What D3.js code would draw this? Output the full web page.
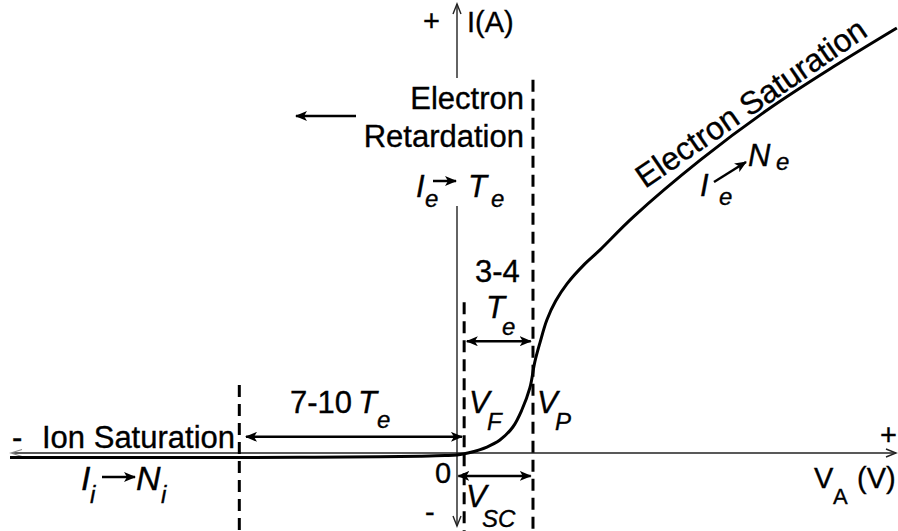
<!DOCTYPE html>
<html>
<head>
<meta charset="utf-8">
<script src="https://cdn.jsdelivr.net/npm/d3@7/dist/d3.min.js"></script>
<style>
  html, body { margin: 0; padding: 0; background: #fff; }
  svg { display: block; }
  text { font-family: "Liberation Sans", Arial, Helvetica, sans-serif; fill: #000; stroke: #000; stroke-width: 0.35px; }
  .it { font-style: italic; }
</style>
</head>
<body>
<svg id="chart" width="898" height="531"></svg>
<script>
// Langmuir probe I–V characteristic (schematic units)
const probeV = [-10, -7.99, -5.75, -3.51, -1.72, -0.83, -0.27, 0, 0.29, 0.67, 0.96, 1.25, 1.45, 1.63, 1.74, 1.86, 2.01, 2.21, 2.46, 2.86, 3.20, 3.94, 5.44, 6.94, 8.41, 9.84];
const probeI = [-0.108, -0.108, -0.106, -0.101, -0.089, -0.075, -0.061, -0.047, 0.012, 0.141, 0.306, 0.612, 1.012, 1.53, 2.14, 2.61, 3.13, 3.58, 3.98, 4.45, 4.78, 5.55, 6.89, 8.07, 9.08, 10.0];

// characteristic voltages: ion-saturation edge, floating, plasma
const guideNames = ["ion", "floating", "plasma"];
const guideV = [-4.87, 0.16, 1.70];
const guideTopI = [1.6, 3.55, 8.78];

// width markers: [from V, to V, at I]
const spanFrom = [-4.72, 0.22, 0.03];
const spanTo = [0.11, 1.65, 1.65];
const spanAt = [0.38, 2.63, -0.54];

const svg = d3.select("#chart");
const W = 898, H = 531;

const x = d3.scaleLinear().domain([-10, 10]).range([10, 904]);
const y = d3.scaleLinear().domain([0, 10]).range([453, 28]);

const defs = svg.append("defs");
defs.append("marker")
  .attr("id", "head").attr("viewBox", "0 0 12 10")
  .attr("refX", 11).attr("refY", 5)
  .attr("markerWidth", 12).attr("markerHeight", 10)
  .attr("markerUnits", "userSpaceOnUse")
  .attr("orient", "auto-start-reverse")
  .append("path").attr("d", "M0,0 L12,5 L0,10 L3,5 Z").attr("fill", "#000");

// axes
const axisColor = "#222";
svg.append("line")
  .attr("x1", 12).attr("x2", 896).attr("y1", y(0)).attr("y2", y(0))
  .attr("stroke", axisColor).attr("stroke-width", 1.4);
svg.append("path")
  .attr("d", `M886,${y(0) - 4} L896,${y(0)} L886,${y(0) + 4}`)
  .attr("fill", "none").attr("stroke", axisColor).attr("stroke-width", 1.4);
svg.append("path")
  .attr("d", `M22,${y(0) - 3.5} L11,${y(0)} L22,${y(0) + 3.5}`)
  .attr("fill", "none").attr("stroke", "#888").attr("stroke-width", 1.2);

const x0 = x(0);
svg.append("line")
  .attr("x1", x0).attr("x2", x0).attr("y1", 4).attr("y2", 526)
  .attr("stroke", axisColor).attr("stroke-width", 1.4);
svg.append("path")
  .attr("d", `M${x0 - 4},14 L${x0},4 L${x0 + 4},14`)
  .attr("fill", "none").attr("stroke", axisColor).attr("stroke-width", 1.4);
svg.append("path")
  .attr("d", `M${x0 - 4},516 L${x0},526 L${x0 + 4},516`)
  .attr("fill", "none").attr("stroke", axisColor).attr("stroke-width", 1.4);

// gap in the current axis behind the retardation label
svg.append("rect")
  .attr("x", x0 - 6).attr("y", 78).attr("width", 12).attr("height", 128)
  .attr("fill", "#fff");

// dashed guides
svg.selectAll("line.guide")
  .data(guideV.map((v, i) => ({ name: guideNames[i], v, top: guideTopI[i] })))
  .join("line")
  .attr("class", "guide")
  .attr("x1", d => x(d.v)).attr("x2", d => x(d.v))
  .attr("y1", d => y(d.top)).attr("y2", H)
  .attr("stroke", "#000").attr("stroke-width", 3)
  .attr("stroke-dasharray", "12,7");

// I–V curve
const pts = probeV.map((v, i) => [v, probeI[i]]);
svg.append("path")
  .datum(pts)
  .attr("d", d3.line().x(d => x(d[0])).y(d => y(d[1])).curve(d3.curveCatmullRom.alpha(0.5)))
  .attr("fill", "none").attr("stroke", "#000").attr("stroke-width", 3);

// double-headed width arrows
svg.selectAll("line.span")
  .data(spanFrom.map((f, i) => ({ f, t: spanTo[i], a: spanAt[i] })))
  .join("line")
  .attr("class", "span")
  .attr("x1", d => x(d.f)).attr("x2", d => x(d.t))
  .attr("y1", d => y(d.a)).attr("y2", d => y(d.a))
  .attr("stroke", "#000").attr("stroke-width", 2.5)
  .attr("marker-start", "url(#head)").attr("marker-end", "url(#head)");

// small inline arrows
function arrow(x1, y1, x2, y2) {
  svg.append("line")
    .attr("x1", x1).attr("y1", y1).attr("x2", x2).attr("y2", y2)
    .attr("stroke", "#000").attr("stroke-width", 2.5)
    .attr("marker-end", "url(#head)");
}
arrow(356, 116, 296, 116);
arrow(433, 181, 456, 181);
arrow(102, 477, 135, 477);
arrow(714, 182, 746, 162);

function txt(s, px, py, size, opts = {}) {
  const t = svg.append("text")
    .attr("x", px).attr("y", py)
    .style("font-size", size + "px")
    .text(s);
  if (opts.italic) t.attr("class", "it");
  if (opts.anchor) t.attr("text-anchor", opts.anchor);
  if (opts.rotate !== undefined) t.attr("transform", `rotate(${opts.rotate},${px},${py})`);
  return t;
}

const F = 31, S = 24;

// axis labels
txt("+", 423, 31, 29);
txt("I(A)", 467, 32, 29);
txt("+", 880, 445, 29);
txt("V", 814, 488, 29);
txt("A", 833, 504, 22);
txt("(V)", 857, 488, 29);
txt("0", 435, 483, 29);
txt("-", 425, 522, 29);

// region labels
txt("Electron", 524, 109, F, { anchor: "end" });
txt("Retardation", 524, 147, F, { anchor: "end" });
txt("I", 416, 197, F, { italic: true });
txt("e", 425, 207, S, { italic: true });
txt("T", 468, 197, F, { italic: true });
txt("e", 491, 207, S, { italic: true });

txt("3-4", 475, 282, F);
txt("T", 486, 318, F, { italic: true });
txt("e", 502, 335, S, { italic: true });

txt("7-10", 290, 413, F);
txt("T", 358, 413, F, { italic: true });
txt("e", 377, 428, S, { italic: true });

txt("V", 469, 413, F, { italic: true });
txt("F", 487, 430, S, { italic: true });
txt("V", 537, 413, F, { italic: true });
txt("P", 555, 430, S, { italic: true });

txt("V", 466, 507, F, { italic: true });
txt("SC", 482, 527, S, { italic: true });

txt("-", 12, 448, F);
txt("Ion Saturation", 42, 448, F);
txt("I", 81, 490, 34, { italic: true });
txt("i", 90, 503, S, { italic: true });
txt("N", 136, 490, 34, { italic: true });
txt("i", 161, 503, S, { italic: true });

txt("Electron Saturation", 645, 189, 32, { rotate: -34.5 });
txt("I", 700, 196, F, { italic: true });
txt("e", 719, 205, S, { italic: true });
txt("N", 748, 166, F, { italic: true });
txt("e", 776, 170, S, { italic: true });
</script>
</body>
</html>
